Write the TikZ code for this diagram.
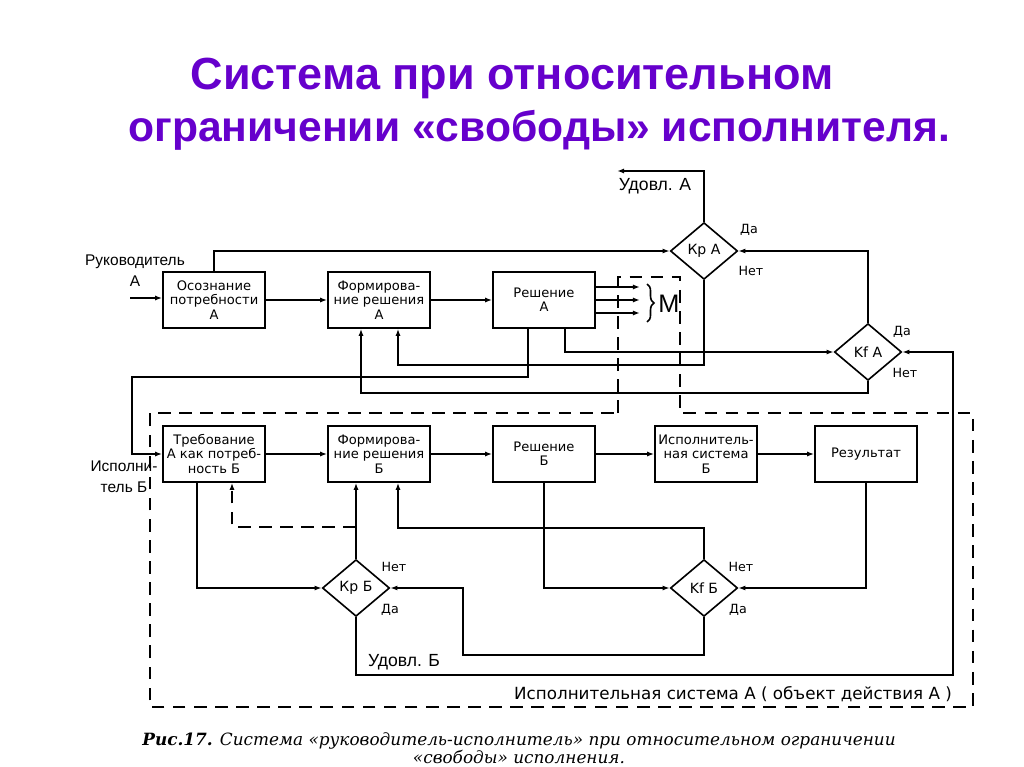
\documentclass[tikz,border=0pt]{standalone}
\usepackage{fontspec}
\setmainfont{DejaVu Serif}
\setsansfont{DejaVu Sans}
\newfontfamily\labelfont{Liberation Sans}
\usetikzlibrary{shapes.geometric,arrows.meta,calc,decorations.pathreplacing}
\definecolor{titleviolet}{RGB}{102,0,204}

\begin{document}
\begin{tikzpicture}[x=0.025cm,y=-0.025cm,line width=1.15pt,
    >={Latex[length=5pt,width=3.6pt]},
    block/.style={draw,minimum width=2.55cm,minimum height=1.4cm,align=center,inner sep=1pt,
      font=\sffamily\fontsize{9.3}{10.2}\selectfont},
    crit/.style={draw,diamond,minimum width=1.68cm,minimum height=1.42cm,inner sep=0pt,
      font=\sffamily\fontsize{10}{11}\selectfont},
    yesno/.style={font=\sffamily\fontsize{9}{10}\selectfont,inner sep=0pt},
    side/.style={font=\labelfont\fontsize{11}{15}\selectfont,align=center,inner sep=0pt},
    headline/.style={text=titleviolet,inner sep=0pt},
    bound/.style={line width=1pt,dash pattern=on 9pt off 6pt}]
    \useasboundingbox (0,0) rectangle (1024,767);

    \node[headline,font=\labelfont\bfseries\fontsize{32}{36}\selectfont] (title1) at (512,78)
      {Система при относительном};
    \node[headline,font=\labelfont\bfseries\fontsize{30.3}{36}\selectfont] (title2) at (539,130)
      {ограничении «свободы» исполнителя.};

    \node[block] (osA) at (214,300) {Осознание\\потребности\\А};
    \node[block] (formA) at (379,300) {Формирова-\\ние решения\\А};
    \node[block] (reshA) at (544,300) {Решение\\А};
    \node[crit] (krA) at (704,251) {Кр А};
    \node[crit] (kfA) at (868,352) {Kf А};

    \node[block] (treb) at (214,454) {Требование\\А как потреб-\\ность Б};
    \node[block] (formB) at (379,454) {Формирова-\\ние решения\\Б};
    \node[block] (reshB) at (544,454) {Решение\\Б};
    \node[block] (ispB) at (706,454) {Исполнитель-\\ная система\\Б};
    \node[block] (rez) at (866,454) {Результат};
    \node[crit] (krB) at (356,588) {Кр Б};
    \node[crit] (kfB) at (704,588) {Kf Б};

    \node[side] (leadA) at (135,271) {Руководитель\\А};
    \node[side] (execB) at (124,477) {Исполни-\\тель Б};
    \node[side,font=\labelfont\fontsize{12.5}{15}\selectfont] (udAlbl) at (655,186) {Удовл. А};
    \node[side,font=\labelfont\fontsize{12.5}{15}\selectfont] (udBlbl) at (404,662) {Удовл. Б};
    \node[font=\sffamily\fontsize{11.9}{13}\selectfont] (sysA) at (733,694)
      {Исполнительная система А ( объект действия А )};

    \node[yesno] (krAyes) at (749,230) {Да};
    \node[yesno] (krAno) at (751,271) {Нет};
    \node[yesno] (kfAyes) at (902,332) {Да};
    \node[yesno] (kfAno) at (905,373) {Нет};
    \node[yesno] (krBno) at (394,567) {Нет};
    \node[yesno] (krByes) at (390,610) {Да};
    \node[yesno] (kfBno) at (741,567) {Нет};
    \node[yesno] (kfByes) at (738,610) {Да};

    \coordinate (inA) at (130,298);
    \coordinate (udA) at (617,171);
    \coordinate (turnB) at (132,377);
    \coordinate (dashJ) at (356,527);
    \coordinate (loopB) at (463,655);
    \coordinate (udB) at (953,675);
    \foreach \i/\y in {1/287,2/300,3/313}
      \coordinate (m\i) at (640,\y);

    \draw[bound] (618,413) -- (618,277) -- (680,277) -- (680,413) -- (973,413)
      -- (973,707) -- (150,707) -- (150,413) -- cycle;

    \draw[->] (inA) -- (inA -| osA.west);
    \draw[->] (osA) -- (formA);
    \draw[->] (formA) -- (reshA);
    \foreach \i in {1,2,3}
      \draw[->] (reshA.east |- m\i) -- (m\i);
    \draw[decorate,decoration={brace,amplitude=5pt}] (647,284) -- (647,322);
    \node[font=\labelfont\fontsize{18}{18}\selectfont] (mLbl) at (669,304) {M};

    \draw[->] (osA.north) |- (krA.west);
    \draw[->] (krA.north) |- (udA);
    \draw[->] (kfA.north) |- (krA.east);
    \draw[->] ($(reshA.south)+(21,0)$) |- (kfA.west);
    \draw[->] (krA.south) |- ($(formA.south)+(19,36)$) -- ($(formA.south)+(19,0)$);
    \draw[->] (kfA.south) |- ($(formA.south)+(-18,64)$) -- ($(formA.south)+(-18,0)$);
    \draw[->] ($(reshA.south)+(-16,0)$) |- (turnB) |- (treb.west);

    \draw[->] (treb) -- (formB);
    \draw[->] (formB) -- (reshB);
    \draw[->] (reshB) -- (ispB);
    \draw[->] (ispB) -- (rez);
    \draw[->] ($(treb.south)+(-17,0)$) |- (krB.west);
    \draw[->] (krB.north) -- (krB.north |- formB.south);
    \draw[->,bound] (dashJ) -| ($(treb.south)+(18,0)$);
    \draw[->] (kfB.north) |- ($(formB.south)+(19,45)$) -- ($(formB.south)+(19,0)$);
    \draw[->] (reshB.south) |- (kfB.west);
    \draw[->] (rez.south) |- (kfB.east);
    \draw[->] (kfB.south) |- (loopB) |- (krB.east);
    \draw[->] (krB.south) |- (udB) |- (kfA.east);

    \node[font=\rmfamily\itshape\fontsize{12}{11}\selectfont,align=center] (caption) at (519,748)
      {\textbf{Рис.17.} Система «руководитель-исполнитель» при относительном ограничении\\«свободы» исполнения.};
\end{tikzpicture}
\end{document}
